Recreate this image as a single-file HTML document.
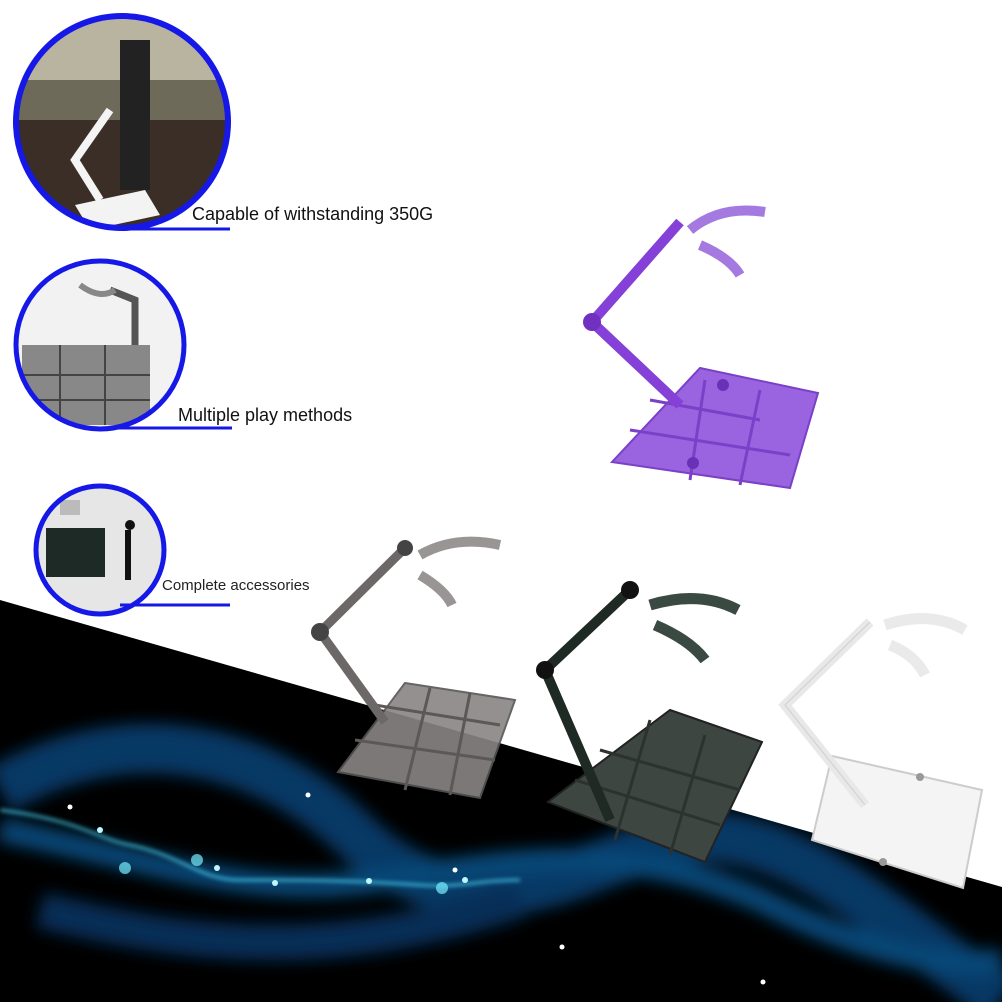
<!DOCTYPE html>
<html><head><meta charset="utf-8"><style>
html,body{margin:0;padding:0;background:#fff}
svg{display:block}
text{font-family:"Liberation Sans",sans-serif}
</style></head><body>
<svg width="1002" height="1002" viewBox="0 0 1002 1002" xmlns="http://www.w3.org/2000/svg">
<defs>
<filter id="bl" x="-20%" y="-20%" width="140%" height="140%"><feGaussianBlur stdDeviation="8"/></filter>
<filter id="gl"><feGaussianBlur stdDeviation="2"/></filter>
<clipPath id="c1"><circle cx="122" cy="122" r="105"/></clipPath>
<clipPath id="c2"><circle cx="100" cy="345" r="83"/></clipPath>
<clipPath id="c3"><circle cx="100" cy="550" r="63"/></clipPath>
<clipPath id="blk"><polygon points="0,600 1002,887 1002,1002 0,1002"/></clipPath>
</defs>
<rect width="1002" height="1002" fill="#fff"/>
<polygon points="0,600 1002,887 1002,1002 0,1002" fill="#000"/>
<g filter="url(#bl)" opacity="0.6" clip-path="url(#blk)">
<path d="M0,790 C120,720 260,740 360,840 C460,930 560,880 640,850 C760,800 860,900 1002,1000" stroke="#0a5fa8" stroke-width="50" fill="none"/>
<path d="M0,830 C150,860 250,900 380,880 C520,860 620,840 760,900 C860,950 940,970 1002,960" stroke="#0b78c8" stroke-width="24" fill="none"/>
<path d="M40,910 C200,950 340,960 520,900" stroke="#084e90" stroke-width="36" fill="none"/>
</g>
<path d="M0,810 C80,820 100,840 130,845 C180,855 200,880 240,880 C300,880 350,880 420,885 C460,888 480,880 520,880" stroke="#4fe0ff" stroke-width="2" fill="none" filter="url(#gl)"/>
<g fill="#bff6ff">
<circle cx="100" cy="830" r="3"/><circle cx="217" cy="868" r="3"/><circle cx="275" cy="883" r="3"/><circle cx="369" cy="881" r="3"/><circle cx="465" cy="880" r="3"/><circle cx="125" cy="868" r="6" fill="#7ef" opacity=".7"/><circle cx="197" cy="860" r="6" fill="#7ef" opacity=".7"/><circle cx="442" cy="888" r="6" fill="#7ef" opacity=".7"/>
<circle cx="70" cy="807" r="2.5" fill="#fff"/><circle cx="308" cy="795" r="2.5" fill="#fff"/><circle cx="562" cy="947" r="2.5" fill="#fff"/><circle cx="763" cy="982" r="2.5" fill="#fff"/><circle cx="455" cy="870" r="2.5" fill="#fff"/>
</g>
<g clip-path="url(#c1)">
<rect x="0" y="0" width="240" height="240" fill="#6d6a5a"/>
<rect x="0" y="0" width="240" height="80" fill="#b9b4a0"/>
<rect x="0" y="120" width="240" height="120" fill="#3a2e26"/>
<polygon points="75,205 145,190 160,215 90,230" fill="#f3f3f3"/>
<path d="M100,200 L75,160 L110,110" stroke="#f4f4f4" stroke-width="8" fill="none"/>
<rect x="120" y="40" width="30" height="150" fill="#222"/>
</g>
<circle cx="122" cy="122" r="106" fill="none" stroke="#1518e6" stroke-width="6"/>
<line x1="115" y1="229" x2="230" y2="229" stroke="#1518e6" stroke-width="3"/>
<text x="192" y="220" font-size="18" fill="#111">Capable of withstanding 350G</text>
<g clip-path="url(#c2)">
<rect x="0" y="250" width="200" height="200" fill="#f2f2f2"/>
<polygon points="22,345 150,345 150,425 22,425" fill="#6d6d6d" opacity=".8"/>
<path d="M60,345 V425 M105,345 V425 M22,375 H150 M22,400 H150" stroke="#444" stroke-width="2"/>
<path d="M135,345 L135,300 L110,290" stroke="#555" stroke-width="7" fill="none"/>
<path d="M80,285 Q100,300 115,290" stroke="#888" stroke-width="6" fill="none"/>
</g>
<circle cx="100" cy="345" r="84" fill="none" stroke="#1518e6" stroke-width="5"/>
<line x1="95" y1="428" x2="232" y2="428" stroke="#1518e6" stroke-width="3"/>
<text x="178" y="421" font-size="18" fill="#111">Multiple play methods</text>
<g clip-path="url(#c3)">
<rect x="30" y="480" width="150" height="150" fill="#e6e6e6"/>
<polygon points="46,528 105,528 105,577 46,577" fill="#1e2a26"/>
<rect x="125" y="530" width="6" height="50" fill="#111"/>
<circle cx="130" cy="525" r="5" fill="#111"/>
<rect x="60" y="500" width="20" height="15" fill="#bbb"/>
</g>
<circle cx="100" cy="550" r="64" fill="none" stroke="#1518e6" stroke-width="5"/>
<line x1="120" y1="605" x2="230" y2="605" stroke="#1518e6" stroke-width="3"/>
<text x="162" y="590" font-size="15" fill="#222">Complete accessories</text>
<polygon points="700,368 818,393 790,488 612,462" fill="#9a63e0" stroke="#7a40c8" stroke-width="2"/>
<path d="M650,400 L760,420 M705,380 L690,480 M630,430 L790,455 M760,390 L740,485" stroke="#7a40c8" stroke-width="3"/>
<circle cx="723" cy="385" r="6" fill="#6a30b8"/><circle cx="693" cy="463" r="6" fill="#6a30b8"/>
<path d="M680,405 L592,322 L680,222" stroke="#8540d8" stroke-width="10" fill="none"/>
<circle cx="592" cy="322" r="9" fill="#7030c0"/>
<path d="M690,230 Q720,205 765,212" stroke="#a47ae0" stroke-width="10" fill="none"/>
<path d="M700,245 Q730,258 740,275" stroke="#a47ae0" stroke-width="10" fill="none"/>
<polygon points="405,683 515,700 480,798 338,772" fill="#8a8585" stroke="#555" stroke-width="2" opacity=".9"/>
<path d="M375,705 L500,725 M355,740 L495,760 M430,688 L405,790 M470,693 L450,795" stroke="#5c5858" stroke-width="3"/>
<path d="M385,722 L320,632 L405,548" stroke="#6d6868" stroke-width="9" fill="none"/>
<circle cx="320" cy="632" r="9" fill="#444"/><circle cx="405" cy="548" r="8" fill="#444"/>
<path d="M420,555 Q455,535 500,545" stroke="#9a9595" stroke-width="10" fill="none"/>
<path d="M420,575 Q445,590 452,605" stroke="#9a9595" stroke-width="10" fill="none"/>
<polygon points="670,710 762,742 705,862 548,802" fill="#3e4642" stroke="#222" stroke-width="2"/>
<path d="M600,750 L740,790 M575,780 L720,825 M650,720 L615,840 M705,735 L670,855" stroke="#2c322f" stroke-width="3"/>
<path d="M610,820 L545,670 L630,590" stroke="#1f2a25" stroke-width="10" fill="none"/>
<circle cx="545" cy="670" r="9" fill="#111"/><circle cx="630" cy="590" r="9" fill="#111"/>
<path d="M650,605 Q700,590 738,610" stroke="#3a4a42" stroke-width="11" fill="none"/>
<path d="M655,625 Q690,640 705,660" stroke="#3a4a42" stroke-width="11" fill="none"/>
<polygon points="832,756 982,790 963,888 812,840" fill="#f4f4f4" stroke="#ccc" stroke-width="2"/>
<circle cx="920" cy="777" r="4" fill="#999"/><circle cx="883" cy="862" r="4" fill="#999"/>
<path d="M865,805 L785,705 L870,622" stroke="#e8e8e8" stroke-width="10" fill="none"/>
<path d="M865,805 L785,705 L870,622" stroke="#cfcfcf" stroke-width="1" fill="none"/>
<path d="M885,625 Q930,610 965,630" stroke="#eaeaea" stroke-width="11" fill="none"/>
<path d="M890,645 Q915,655 925,675" stroke="#eaeaea" stroke-width="11" fill="none"/>
</svg>
</body></html>
